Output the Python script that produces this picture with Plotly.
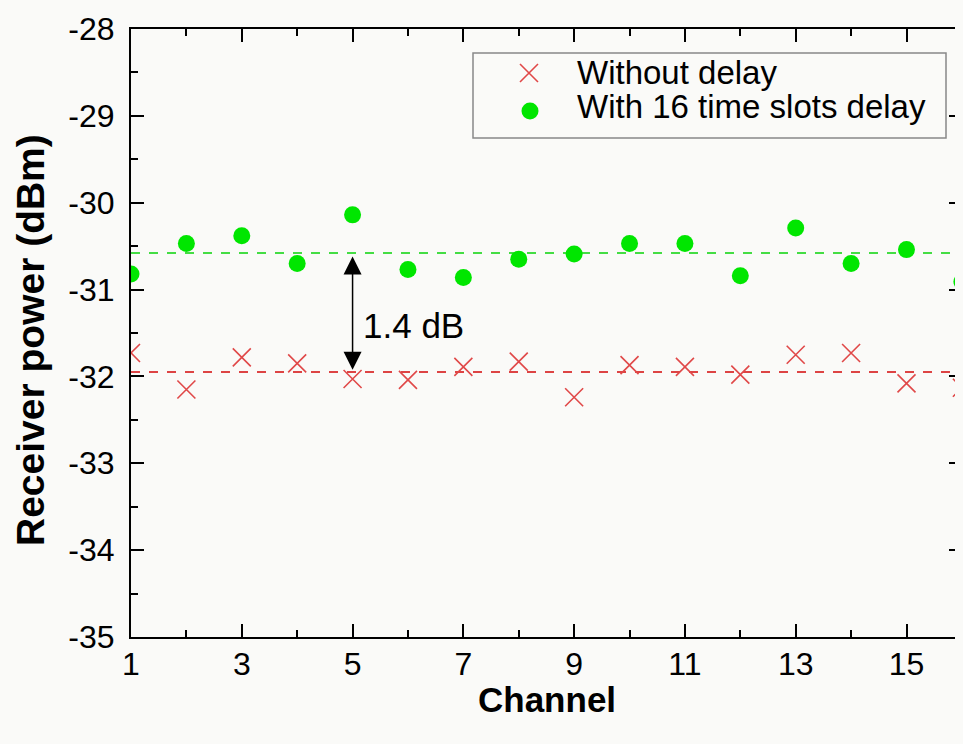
import plotly.graph_objects as go

channels = list(range(1, 17))
without_delay = [-31.73, -32.15, -31.78, -31.85, -32.03, -32.04, -31.89, -31.83,
                 -32.24, -31.87, -31.89, -31.98, -31.75, -31.73, -32.08, -32.13]
with_delay = [-30.82, -30.47, -30.38, -30.70, -30.14, -30.77, -30.86, -30.65,
              -30.59, -30.47, -30.47, -30.84, -30.29, -30.70, -30.54, -30.91]
mean_without = -31.95
mean_with = -30.58
arrow_x = 5
label_text = "1.4 dB"
series_names = ["Without delay", "With 16 time slots delay"]
x_tickvals = [1, 3, 5, 7, 9, 11, 13, 15]
y_tickvals = [-35, -34, -33, -32, -31, -30, -29, -28]
y_ticktext = ["-35", "-34", "-33", "-32", "-31", "-30", "-29", "-28"]

FONT = "Liberation Sans, Arial, sans-serif"
BG = "#fafaf8"
RED = "#e04848"
GREEN = "#00e600"

# page offset (default body margin) and target plot-area geometry in window pixels
OFF = 8
L, R, T, B = 131, 962, 29, 637
W_, H_ = R - L, B - T
FIG_W, FIG_H = 963 - OFF, 744 - 2 * OFF


def px(xp):
    return (xp - L) / W_


def py(yp):
    return (B - yp) / H_


fig = go.Figure()

# reference dashed lines
fig.add_trace(go.Scatter(x=[1, 16], y=[mean_with, mean_with], mode="lines",
                         line=dict(color="#44dd44", width=2, dash="dash"),
                         showlegend=False, hoverinfo="skip"))
fig.add_trace(go.Scatter(x=[1, 16], y=[mean_without, mean_without], mode="lines",
                         line=dict(color="#dd4444", width=2, dash="dash"),
                         showlegend=False, hoverinfo="skip"))

red_marker = dict(symbol="x-thin", size=18, color=RED, line=dict(color=RED, width=1.6))
green_marker = dict(symbol="circle", size=17, color=GREEN)

fig.add_trace(go.Scatter(x=channels, y=without_delay, mode="markers", name=series_names[0],
                         marker=red_marker, showlegend=False))
fig.add_trace(go.Scatter(x=channels, y=with_delay, mode="markers", name=series_names[1],
                         marker=green_marker, showlegend=False))

# manual legend (box, symbols, texts)
fig.add_shape(type="rect", xref="paper", yref="paper",
              x0=px(473), x1=px(946), y0=py(138), y1=py(53),
              line=dict(color="#888888", width=1.5), fillcolor=BG, layer="below")
fig.add_trace(go.Scatter(x=[px(529)], y=[py(73)], xaxis="x2", yaxis="y2", mode="markers",
                         marker=red_marker, showlegend=False, hoverinfo="skip"))
fig.add_trace(go.Scatter(x=[px(530)], y=[py(111)], xaxis="x2", yaxis="y2", mode="markers",
                         marker=green_marker, showlegend=False, hoverinfo="skip"))
for name, yc in zip(series_names, [72, 106]):
    fig.add_annotation(x=px(575), y=py(yc), xref="paper", yref="paper", text=name,
                       showarrow=False, xanchor="left", yanchor="middle",
                       font=dict(family=FONT, size=33, color="black"))

# double-headed arrow
fig.add_annotation(x=arrow_x, y=mean_with - 0.04, ax=arrow_x, ay=mean_without + 0.01,
                   xref="x", yref="y", axref="x", ayref="y", text="",
                   showarrow=True, arrowhead=2, arrowside="end+start",
                   arrowsize=2.4, arrowwidth=1.5, arrowcolor="black")
fig.add_annotation(x=arrow_x + 0.15, y=-31.41, xref="x", yref="y", text=label_text,
                   showarrow=False, xanchor="left", yanchor="middle",
                   font=dict(family=FONT, size=35, color="black"))

# axis titles
fig.add_annotation(x=px(30), y=py(340), xref="paper", yref="paper",
                   text="<b>Receiver power (dBm)</b>",
                   textangle=-90, showarrow=False, xanchor="center", yanchor="middle",
                   font=dict(family=FONT, size=39, color="black"))
fig.add_annotation(x=0.5, y=py(699), xref="paper", yref="paper", text="<b>Channel</b>",
                   showarrow=False, xanchor="center", yanchor="middle",
                   font=dict(family=FONT, size=35, color="black"))

axis_common = dict(showline=True, linecolor="black", linewidth=2, mirror="ticks",
                   ticks="inside", tickcolor="black", tickwidth=2, ticklen=13,
                   showgrid=False, zeroline=False, automargin=False,
                   tickfont=dict(family=FONT, size=32, color="black"))

fig.update_layout(
    xaxis=dict(range=[1, 16.002], tickmode="array", tickvals=x_tickvals,
               ticklabelstandoff=-2,
               minor=dict(dtick=1, tick0=1, ticks="inside", ticklen=7, tickwidth=2,
                          tickcolor="black"),
               **axis_common),
    yaxis=dict(range=[-35, -28], tickmode="array", tickvals=y_tickvals, ticktext=y_ticktext,
               ticklabelstandoff=8,
               minor=dict(dtick=0.5, ticks="inside", ticklen=7, tickwidth=2,
                          tickcolor="black"),
               **axis_common),
    xaxis2=dict(overlaying="x", range=[0, 1], visible=False, automargin=False),
    yaxis2=dict(overlaying="y", range=[0, 1], visible=False, automargin=False),
    width=FIG_W, height=FIG_H,
    margin=dict(l=L - OFF, r=FIG_W - (R - OFF), t=T - OFF, b=FIG_H - (B - OFF),
                autoexpand=False),
    paper_bgcolor=BG, plot_bgcolor=BG,
    showlegend=False,
)

fig.write_html("out.html", post_script="document.body.style.background='%s';" % BG)
